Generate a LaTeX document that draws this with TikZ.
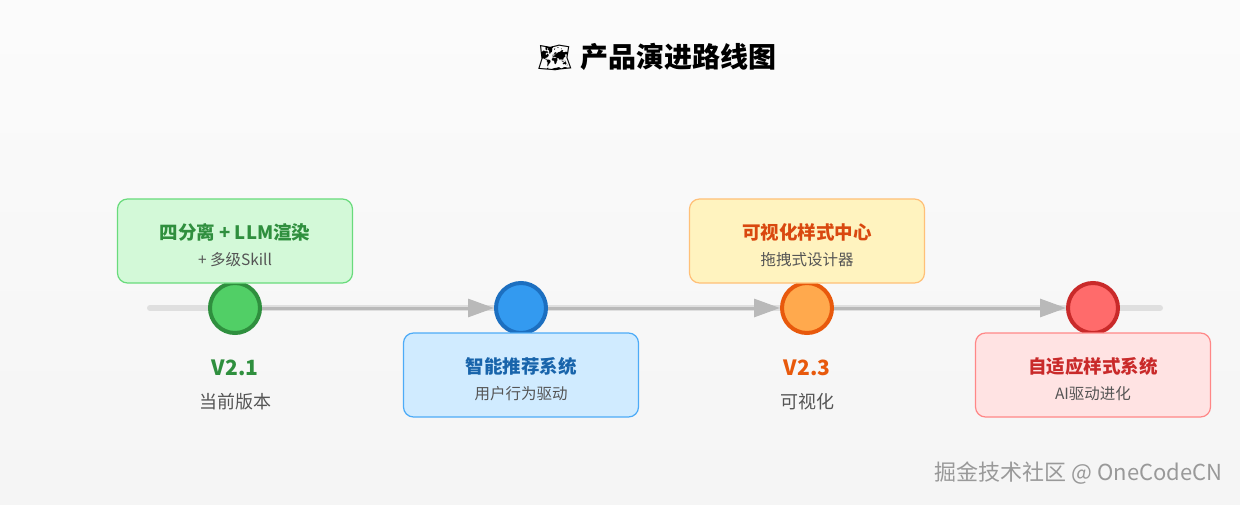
\documentclass[tikz,border=0pt]{standalone}
\usepackage{fontspec}
\setmainfont{Noto Sans CJK SC}
\newfontfamily\emo{Noto Emoji}
\usetikzlibrary{arrows.meta}
\definecolor{gbd}{HTML}{2F8F3E}\definecolor{gfl}{HTML}{51CF66}
\definecolor{bbd}{HTML}{1C6FC0}\definecolor{bfl}{HTML}{339AF0}
\definecolor{obd}{HTML}{E8590C}\definecolor{ofl}{HTML}{FFA94D}
\definecolor{rbd}{HTML}{C92A2A}\definecolor{rfl}{HTML}{FF6B6B}
\definecolor{txt}{HTML}{555555}
\definecolor{g1}{RGB}{211,249,216}\definecolor{g2}{RGB}{105,219,124}
\definecolor{b1}{RGB}{208,235,255}\definecolor{b2}{RGB}{77,171,247}\definecolor{b3}{RGB}{24,100,171}
\definecolor{o1}{RGB}{255,243,191}\definecolor{o2}{RGB}{255,192,120}\definecolor{o3}{RGB}{217,72,15}
\definecolor{r1}{RGB}{255,227,227}\definecolor{r2}{RGB}{255,135,135}
\tikzset{
 dot/.style={circle,minimum size=50pt,inner sep=0pt,line width=4pt},
 card/.style={rounded corners=10pt,minimum width=235pt,minimum height=84pt,line width=1.2pt},
 ctitle/.style={font=\fontsize{18.5}{22}\selectfont\bfseries},
 csub/.style={font=\fontsize{15.5}{18}\selectfont,text=txt},
 link/.style={draw=gray!55,line width=3pt,-{Triangle[length=26pt,width=18pt]}},
}
\begin{document}
\begin{tikzpicture}[x=1pt,y=-1pt]
\shade[top color=white!97!gray,bottom color=white!92!gray] (0,0) rectangle (1240,505);
\useasboundingbox (0,0) rectangle (1240,505);
\node (title) at (657,57) {{\emo\fontsize{28}{32}\selectfont 🗺}\hspace{8pt}{\fontsize{28}{34}\selectfont\bfseries 产品演进路线图}};
\coordinate (ls) at (150,308); \coordinate (le) at (1160,308);
\draw[line width=6pt,gray!25,line cap=round] (ls) -- (le);
\node[dot,draw=gbd,fill=gfl] (c1) at (235,308) {};
\node[dot,draw=bbd,fill=bfl] (c2) at (521,308) {};
\node[dot,draw=obd,fill=ofl] (c3) at (807,308) {};
\node[dot,draw=rbd,fill=rfl] (c4) at (1093,308) {};
\draw[link] (c1) -- (c2);
\draw[link] (c2) -- (c3);
\draw[link] (c3) -- (c4);
\node[card,fill=g1,draw=g2] (bx1) at (235,241) {};
\node[ctitle,text=gbd] (b1t) at (235,232) {四分离 + LLM渲染};
\node[csub] (b1s) at (235,260) {+ 多级Skill};
\node[card,fill=b1,draw=b2] (bx2) at (521,375) {};
\node[ctitle,text=b3] (b2t) at (521,366) {智能推荐系统};
\node[csub] (b2s) at (521,394) {用户行为驱动};
\node[card,fill=o1,draw=o2] (bx3) at (807,241) {};
\node[ctitle,text=o3] (b3t) at (807,232) {可视化样式中心};
\node[csub] (b3s) at (807,260) {拖拽式设计器};
\node[card,fill=r1,draw=r2] (bx4) at (1093,375) {};
\node[ctitle,text=rbd] (b4t) at (1093,366) {自适应样式系统};
\node[csub] (b4s) at (1093,394) {AI驱动进化};
\node[font=\fontsize{21}{24}\selectfont\bfseries,text=gbd] (v1) at (235,368) {V2.1};
\node[font=\fontsize{18}{21}\selectfont,text=txt] (v1s) at (235,402) {当前版本};
\node[font=\fontsize{21}{24}\selectfont\bfseries,text=obd] (v3) at (807,368) {V2.3};
\node[font=\fontsize{18}{21}\selectfont,text=txt] (v3s) at (807,402) {可视化};
\node[font=\fontsize{22}{26}\selectfont,text=gray!80,anchor=east] (wm) at (1226,473) {掘金技术社区 @ OneCodeCN};
\end{tikzpicture}
\end{document}
